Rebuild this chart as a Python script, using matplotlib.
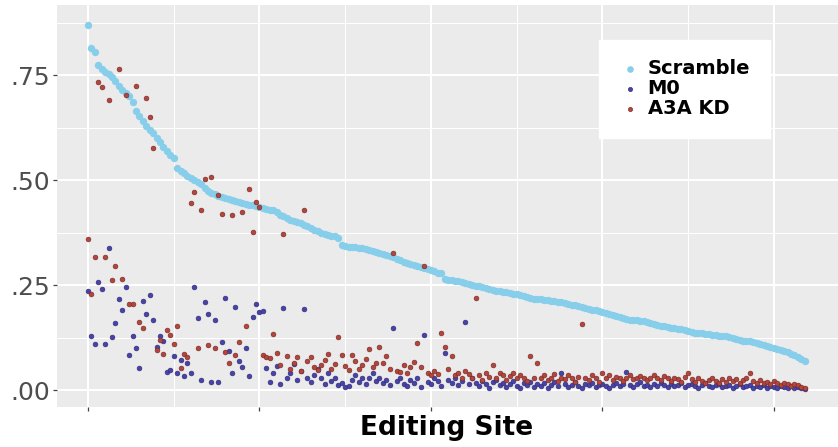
import matplotlib
matplotlib.use("Agg")
import matplotlib.pyplot as plt
from matplotlib.ticker import FixedLocator

# ---------------- data (site rank) ----------------
scramble = [
    0.870, 0.815, 0.805, 0.775, 0.765, 0.758, 0.752, 0.745, 0.735, 0.725,
    0.715, 0.708, 0.700, 0.685, 0.665, 0.652, 0.640, 0.630, 0.620, 0.612,
    0.600, 0.592, 0.580, 0.570, 0.560, 0.552, 0.530, 0.522, 0.516, 0.510,
    0.505, 0.500, 0.496, 0.490, 0.482, 0.475, 0.470, 0.466, 0.463, 0.460,
    0.457, 0.454, 0.452, 0.450, 0.448, 0.446, 0.444, 0.442, 0.440, 0.438,
    0.436, 0.434, 0.432, 0.430, 0.428, 0.424, 0.418, 0.414, 0.410, 0.406,
    0.403, 0.400, 0.397, 0.394, 0.390, 0.386, 0.382, 0.378, 0.375, 0.372,
    0.370, 0.368, 0.366, 0.362, 0.345, 0.343, 0.342, 0.341, 0.340, 0.339,
    0.338, 0.336, 0.334, 0.331, 0.329, 0.327, 0.325, 0.323, 0.320, 0.317,
    0.313, 0.309, 0.306, 0.303, 0.300, 0.298, 0.296, 0.294, 0.292, 0.289,
    0.286, 0.283, 0.280, 0.278, 0.265, 0.263, 0.262, 0.261, 0.259, 0.257,
    0.255, 0.253, 0.251, 0.249, 0.247, 0.245, 0.243, 0.241, 0.239, 0.237,
    0.236, 0.234, 0.233, 0.232, 0.230, 0.228, 0.226, 0.224, 0.222, 0.220,
    0.218, 0.217, 0.216, 0.215, 0.214, 0.213, 0.212, 0.211, 0.210, 0.208,
    0.206, 0.204, 0.202, 0.200, 0.198, 0.196, 0.194, 0.192, 0.190, 0.188,
    0.186, 0.184, 0.182, 0.180, 0.177, 0.174, 0.171, 0.169, 0.168, 0.167,
    0.166, 0.165, 0.164, 0.162, 0.160, 0.158, 0.156, 0.154, 0.152, 0.150,
    0.148, 0.147, 0.146, 0.145, 0.143, 0.141, 0.139, 0.137, 0.136, 0.135,
    0.134, 0.133, 0.132, 0.131, 0.130, 0.129, 0.128, 0.126, 0.124, 0.122,
    0.120, 0.118, 0.117, 0.116, 0.114, 0.112, 0.110, 0.108, 0.106, 0.104,
    0.101, 0.099, 0.096, 0.093, 0.090, 0.087, 0.083, 0.079, 0.075, 0.069,
]

m0 = [
    0.236, 0.129, 0.111, 0.258, 0.242, 0.111, 0.339, 0.127, 0.160, 0.218,
    0.190, 0.245, 0.083, 0.130, 0.100, 0.054, 0.212, 0.181, 0.226, 0.168,
    0.102, 0.129, 0.117, 0.044, 0.048, 0.081, 0.040, 0.073, 0.033, 0.064,
    0.042, 0.246, 0.173, 0.025, 0.210, 0.181, 0.020, 0.167, 0.020, 0.115,
    0.219, 0.093, 0.040, 0.198, 0.070, 0.055, 0.100, 0.034, 0.174, 0.205,
    0.186, 0.188, 0.052, 0.019, 0.040, 0.057, 0.014, 0.195, 0.030, 0.040,
    0.063, 0.025, 0.045, 0.193, 0.030, 0.020, 0.035, 0.050, 0.028, 0.015,
    0.040, 0.022, 0.030, 0.012, 0.018, 0.008, 0.010, 0.025, 0.035, 0.020,
    0.030, 0.015, 0.028, 0.040, 0.022, 0.030, 0.018, 0.025, 0.012, 0.148,
    0.022, 0.030, 0.015, 0.010, 0.025, 0.018, 0.030, 0.008, 0.131, 0.020,
    0.015, 0.030, 0.022, 0.010, 0.088, 0.025, 0.018, 0.030, 0.012, 0.022,
    0.162, 0.015, 0.028, 0.018, 0.010, 0.022, 0.015, 0.005, 0.020, 0.025,
    0.012, 0.018, 0.008, 0.015, 0.022, 0.010, 0.005, 0.018, 0.012, 0.020,
    0.008, 0.015, 0.010, 0.018, 0.005, 0.012, 0.020, 0.010, 0.040, 0.015,
    0.008, 0.012, 0.020, 0.010, 0.005, 0.015, 0.012, 0.018, 0.008, 0.012,
    0.015, 0.010, 0.005, 0.012, 0.018, 0.010, 0.015, 0.043, 0.012, 0.008,
    0.015, 0.020, 0.010, 0.012, 0.008, 0.015, 0.010, 0.018, 0.012, 0.008,
    0.015, 0.010, 0.012, 0.018, 0.008, 0.012, 0.015, 0.010, 0.005, 0.012,
    0.018, 0.010, 0.008, 0.012, 0.015, 0.008, 0.010, 0.012, 0.006, 0.010,
    0.014, 0.008, 0.010, 0.012, 0.006, 0.010, 0.008, 0.012, 0.006, 0.010,
    0.008, 0.005, 0.010, 0.008, 0.006, 0.010, 0.005, 0.008, 0.006, 0.004,
]

a3a_kd = [
    0.361, 0.229, 0.316, 0.733, 0.721, 0.316, 0.690, 0.262, 0.296, 0.764,
    0.264, 0.702, 0.205, 0.205, 0.724, 0.163, 0.147, 0.695, 0.650, 0.576,
    0.095, 0.120, 0.085, 0.143, 0.131, 0.110, 0.153, 0.052, 0.085, 0.079,
    0.445, 0.471, 0.100, 0.429, 0.502, 0.107, 0.507, 0.100, 0.464, 0.419,
    0.090, 0.064, 0.417, 0.083, 0.114, 0.424, 0.152, 0.478, 0.376, 0.447,
    0.436, 0.083, 0.079, 0.076, 0.133, 0.088, 0.060, 0.373, 0.081, 0.050,
    0.065, 0.080, 0.045, 0.429, 0.070, 0.078, 0.055, 0.048, 0.060, 0.072,
    0.085, 0.050, 0.062, 0.126, 0.083, 0.058, 0.047, 0.084, 0.070, 0.050,
    0.060, 0.075, 0.098, 0.055, 0.064, 0.102, 0.064, 0.081, 0.050, 0.326,
    0.045, 0.043, 0.060, 0.040, 0.055, 0.067, 0.112, 0.055, 0.295, 0.040,
    0.035, 0.045, 0.038, 0.136, 0.102, 0.050, 0.081, 0.035, 0.042, 0.030,
    0.045, 0.038, 0.028, 0.219, 0.035, 0.025, 0.040, 0.032, 0.060, 0.030,
    0.042, 0.036, 0.025, 0.033, 0.040, 0.028, 0.035, 0.030, 0.022, 0.081,
    0.030, 0.064, 0.028, 0.035, 0.025, 0.030, 0.038, 0.022, 0.030, 0.026,
    0.035, 0.028, 0.020, 0.032, 0.158, 0.030, 0.024, 0.036, 0.028, 0.020,
    0.042, 0.030, 0.035, 0.025, 0.032, 0.028, 0.022, 0.030, 0.036, 0.026,
    0.030, 0.034, 0.028, 0.024, 0.030, 0.036, 0.030, 0.025, 0.033, 0.028,
    0.022, 0.030, 0.026, 0.020, 0.032, 0.040, 0.026, 0.020, 0.028, 0.022,
    0.018, 0.025, 0.030, 0.022, 0.018, 0.026, 0.020, 0.030, 0.022, 0.026,
    0.018, 0.024, 0.030, 0.040, 0.022, 0.018, 0.024, 0.016, 0.020, 0.014,
    0.022, 0.016, 0.012, 0.018, 0.014, 0.010, 0.015, 0.012, 0.008, 0.006,
]

series_names = ["Scramble", "M0", "A3A KD"]
series_colors = ["#87CEEB", "#4743A8", "#B5443C"]
y_tick_values = [0.00, 0.25, 0.50, 0.75]
y_tick_labels = [".00", ".25", ".50", ".75"]   # as visible in the (cropped) reference
x_tick_values = [0, 50, 100, 150, 200]
x_label = "Editing Site"

sites = list(range(len(scramble)))

# ---------------- figure ----------------
W, H = 838, 447
fig = plt.figure(figsize=(W / 100, H / 100), dpi=100)
ax = fig.add_axes([57 / W, 1 - 407 / H, 1 - 57 / W, (407 - 5) / H])
ax.set_facecolor("#EBEBEB")
for sp in ax.spines.values():
    sp.set_visible(False)

ax.scatter(sites, scramble, s=28, color=series_colors[0], linewidths=0, zorder=3, label=series_names[0])
ax.scatter(sites, m0, s=12, color=series_colors[1], edgecolors="#2E2A70", linewidths=0.4, zorder=4, label=series_names[1])
ax.scatter(sites, a3a_kd, s=12, color=series_colors[2], edgecolors="#6E2A26", linewidths=0.4, zorder=5, label=series_names[2])

ax.set_xlim(-9.04, 218.7)
ax.set_ylim(-0.040, 0.917)

ax.set_yticks(y_tick_values)
ax.set_yticklabels(y_tick_labels)
ax.yaxis.set_minor_locator(FixedLocator([0.125, 0.375, 0.625, 0.875]))
ax.set_xticks(x_tick_values)
ax.set_xticklabels([""] * len(x_tick_values))
ax.xaxis.set_minor_locator(FixedLocator([25, 75, 125, 175]))

ax.grid(which="major", color="white", linewidth=1.5, zorder=0)
ax.grid(which="minor", color="white", linewidth=0.75, zorder=0)
ax.set_axisbelow(True)

ax.tick_params(axis="both", which="major", length=3, width=0.9, color="#444444",
               labelcolor="#4D4D4D", labelsize=18, pad=2)
ax.tick_params(axis="both", which="minor", length=0)
for lab in ax.get_yticklabels():
    lab.set_family("DejaVu Sans")

fig.text(447 / W, 1 - 435 / H, x_label, ha="center", va="baseline",
         fontsize=19, fontweight="bold", family="DejaVu Sans", color="black")

leg = ax.legend(loc="upper left", bbox_to_anchor=(599 / W, 1 - 40 / H),
                bbox_transform=fig.transFigure, frameon=True, fancybox=False,
                facecolor="white", edgecolor="white", framealpha=1,
                prop={"family": "DejaVu Sans", "weight": "bold", "size": 14},
                labelspacing=0.05, handletextpad=0.3, borderpad=1.0,
                handlelength=1.2, markerscale=0.9, borderaxespad=0)

fig.savefig("out.png", dpi=100)
